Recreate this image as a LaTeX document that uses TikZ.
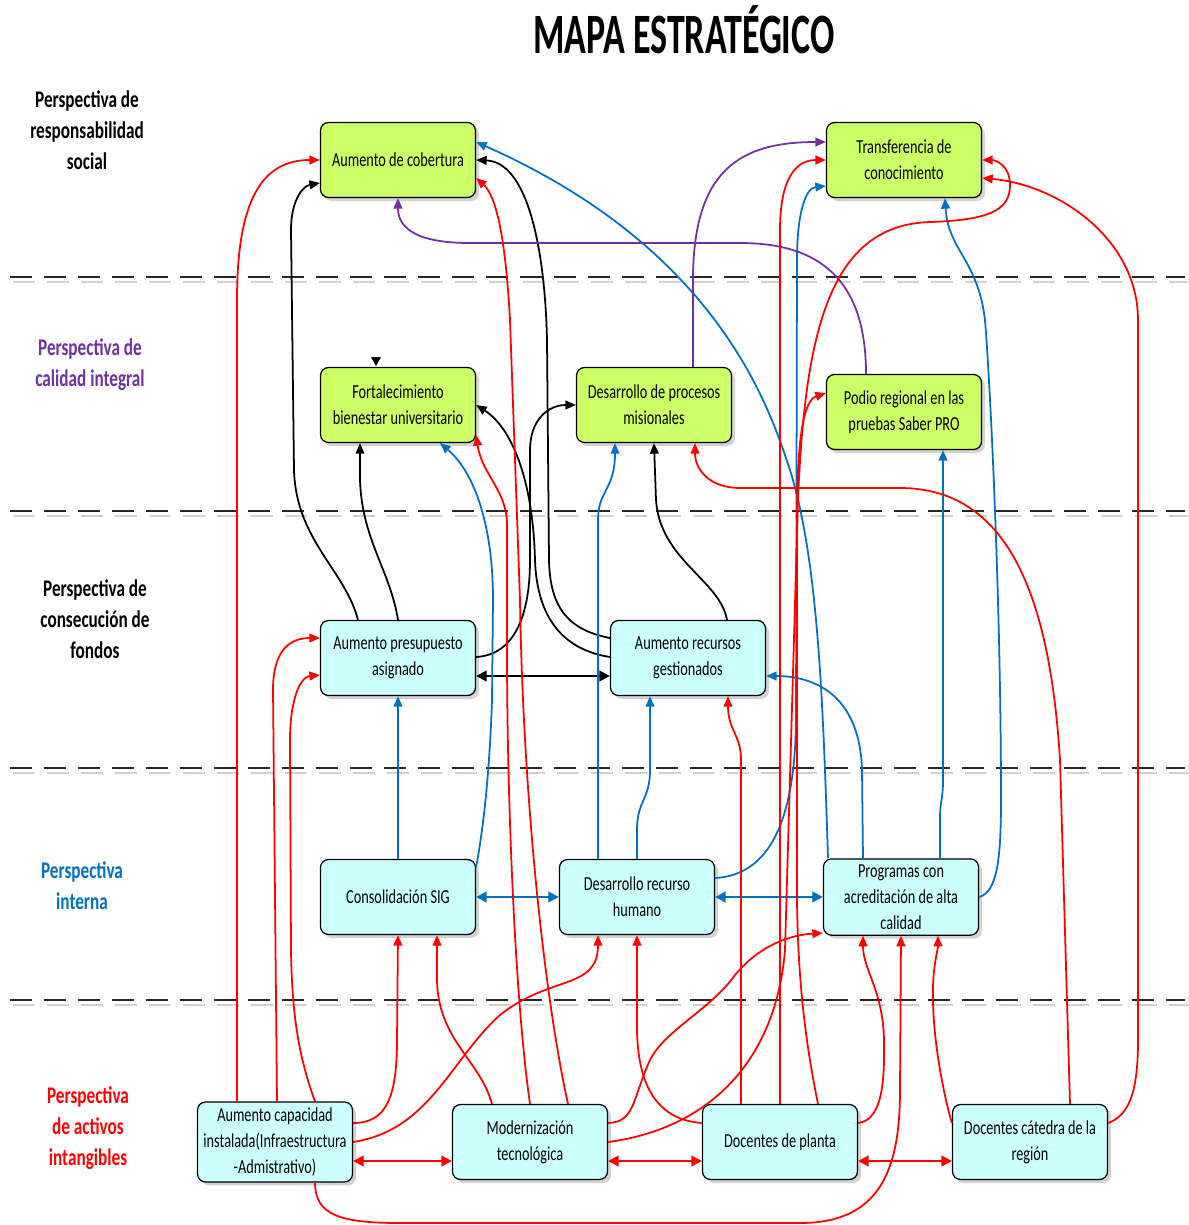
\documentclass[tikz,border=0pt]{standalone}
\usepackage{fontspec}
\setmainfont{Carlito}[FakeStretch=0.72]
\newfontfamily\titlefont{Carlito}[FakeStretch=0.63]
\usepackage{tikz}
\usetikzlibrary{arrows.meta,positioning,calc,shadows}
\definecolor{lima}{HTML}{CCFF66}
\definecolor{celeste}{HTML}{CCFFFF}
\definecolor{azul}{HTML}{0070C0}
\definecolor{morado}{HTML}{7030A0}
\definecolor{rojo}{HTML}{FF0000}
\definecolor{sombra}{HTML}{D2D2C6}

\begin{document}
\begin{tikzpicture}[x=0.02cm,y=-0.02cm,
    caja/.style={draw, rounded corners=0.16cm, minimum width=3.1cm, minimum height=1.5cm,
      align=center, line width=0.7pt, font=\fontsize{11.3}{14.7}\selectfont,
      drop shadow={shadow xshift=2pt, shadow yshift=-2pt, fill=black!35}},
    verde/.style={caja, fill=lima},
    cian/.style={caja, fill=celeste},
    persp/.style={align=center, font=\fontsize{13.6}{17.6}\selectfont\bfseries},
    flecha/.style={line width=1pt, -{Triangle[length=6pt,width=5pt]}},
    doble/.style={line width=1.4pt, {Triangle[length=6pt,width=6pt]}-{Triangle[length=6pt,width=6pt]}},
    negro/.style={flecha, draw=black},
    azulf/.style={flecha, draw=azul},
    moradof/.style={flecha, draw=morado},
    rojof/.style={flecha, draw=rojo},
    separa/.style={line width=1.6pt, dash pattern=on 0.44cm off 0.24cm}]

    \useasboundingbox (0,0) rectangle (1189,1225);

    % title and perspectives
    \node (titulo) at (684,30) {\titlefont\fontsize{32.5}{36}\selectfont\bfseries MAPA ESTRATÉGICO};
    \node [persp] (p1) at (87,130) {Perspectiva de\\responsabilidad\\social};
    \node [persp, text=morado] (p2) at (90,365) {Perspectiva de\\calidad integral};
    \node [persp] (p3) at (95,619) {Perspectiva de\\consecución de\\fondos};
    \node [persp, text=azul] (p4) at (82,886) {Perspectiva\\interna};
    \node [persp, text=rojo] (p5) at (88,1128) {Perspectiva\\de activos\\intangibles};

    % separators
    \foreach \y in {277,511,768,1000} {
        \draw [separa, sombra] (13,\y+5) -- (1188,\y+5);
        \draw [separa, black!85] (10,\y) -- (1185,\y);
    }

    % objectives
    \node [verde] (cob) at (398,160) {Aumento de cobertura};
    \node [verde] (trans) at (904,160) {Transferencia de\\conocimiento};
    \node [verde] (fort) at (398,405) {Fortalecimiento\\bienestar universitario};
    \node [verde] (desp) at (654,405) {Desarrollo de procesos\\misionales};
    \node [verde] (podio) at (904,412) {Podio regional en las\\pruebas Saber PRO};
    \node [cian] (pres) at (398,658) {Aumento presupuesto\\asignado};
    \node [cian] (recg) at (688,658) {Aumento recursos\\gestionados};
    \node [cian] (sig) at (398,897) {Consolidación SIG};
    \node [cian] (drh) at (637,897) {Desarrollo recurso\\humano};
    \node [cian] (prog) at (901,897) {Programas con\\acreditación de alta\\calidad};
    \node [cian] (cap) at (275,1142) {Aumento capacidad\\instalada(Infraestructura\\-Admistrativo)};
    \node [cian] (mod) at (530,1142) {Modernización\\tecnológica};
    \node [cian] (docp) at (780,1142) {Docentes de planta};
    \node [cian] (docc) at (1030,1142) {Docentes cátedra de la\\región};

    \fill (371,357) -- (381,357) -- (376,366) -- cycle;

    % black
    \draw [negro] ($(pres.north)+(-40,0)$) .. controls (345,570) and (296,540) .. (294,470)
        -- (291,230) .. controls (291,200) and (303,186) .. ($(cob.west)+(0,23)$);
    \draw [negro] (pres.north) .. controls (390,570) and (362,540) .. (360,480) -- ($(fort.south)+(-38,0)$);
    \draw [negro] ($(pres.east)+(0,-1)$) .. controls (512,655) and (530,620) .. (530,560)
        -- (530,450) .. controls (530,420) and (548,405) .. (desp.west);
    \draw [negro] ($(recg.west)+(0,-1)$) .. controls (565,650) and (537,620) .. (535,560)
        .. controls (533,480) and (512,428) .. (fort.east);
    \draw [negro] ($(recg.west)+(0,-20)$) .. controls (570,630) and (550,610) .. (549,560)
        -- (547,340) .. controls (545,250) and (528,162) .. (cob.east);
    \draw [negro] ($(recg.north)+(39,0)$) .. controls (720,580) and (660,560) .. (656,500) -- (desp.south);
    \draw [doble, black] ($(pres.east)+(0,18)$) -- ($(recg.west)+(0,18)$);

    % blue
    \draw [azulf] (sig.north) -- (pres.south);
    \draw [azulf] ($(sig.east)+(0,-30)$) .. controls (485,820) and (490,760) .. (492,700)
        -- (493,600) .. controls (493,520) and (472,470) .. ($(fort.south)+(42,0)$);
    \draw [doble, azul] (sig.east) -- (drh.west);
    \draw [azulf] ($(drh.north)+(-39,0)$) -- (598,520) .. controls (598,490) and (615,490) .. ($(desp.south)+(-39,0)$);
    \draw [azulf] (drh.north) -- (637,830) .. controls (637,800) and (650,800) .. (650,770) -- ($(recg.south)+(-38,0)$);
    \draw [azulf] ($(drh.east)+(0,-19)$) .. controls (770,875) and (795,820) .. (796,720)
        -- (797,260) .. controls (797,215) and (805,188) .. ($(trans.west)+(0,26)$);
    \draw [azulf] ($(prog.north)+(-38,0)$) -- (862,770) .. controls (860,700) and (820,676) .. ($(recg.east)+(0,18)$);
    \draw [azulf] ($(prog.north)+(-73,0)$) .. controls (823,700) and (818,560) .. (790,470)
        .. controls (770,410) and (720,250) .. ($(cob.east)+(0,-18)$);
    \draw [azulf] ($(prog.north)+(39,0)$) -- (940,820) .. controls (940,800) and (943,800) .. (943,780) -- ($(podio.south)+(39,0)$);
    \draw [azulf] (prog.east) .. controls (997,892) and (1001,860) .. (1001,800)
        .. controls (1001,600) and (990,380) .. (985,320) .. controls (978,260) and (948,250) .. ($(trans.south)+(41,0)$);
    \draw [doble, azul] (drh.east) -- (prog.west);

    % purple
    \draw [moradof] ($(desp.north)+(39,0)$) -- (693,280) .. controls (693,170) and (740,142) .. ($(trans.west)+(0,-18)$);
    \draw [moradof] ($(podio.north)+(-38,0)$) .. controls (866,280) and (820,243) .. (740,243)
        -- (470,243) .. controls (420,243) and (398,230) .. (cob.south);

    % red
    \draw [rojof] ($(cap.north)+(-38,0)$) -- (237,300) .. controls (237,200) and (262,160) .. (cob.west);
    \draw [rojof] ($(cap.north)+(2,0)$) -- (273,690) .. controls (273,650) and (290,638) .. ($(pres.west)+(0,-20)$);
    \draw [rojof] ($(cap.north)+(40,0)$) .. controls (300,1060) and (292,1020) .. (291,950)
        -- (290,740) .. controls (290,700) and (300,677) .. ($(pres.west)+(0,17)$);
    \draw [rojof] ($(cap.east)+(0,-19)$) .. controls (385,1123) and (397,1100) .. (397,1040) -- (sig.south);
    \draw [rojof] (cap.east) .. controls (430,1130) and (450,1060) .. (500,1015)
        .. controls (550,975) and (598,990) .. ($(drh.south)+(-39,0)$);
    \draw [rojof] ($(cap.south)+(40,0)$) .. controls (315,1215) and (340,1223) .. (400,1223)
        -- (800,1223) .. controls (880,1223) and (900,1170) .. (900,1090) -- (prog.south);
    \draw [doble, rojo] ($(cap.east)+(0,19)$) -- ($(mod.west)+(0,19)$);

    \draw [rojof] ($(mod.north)+(-38,0)$) .. controls (480,1060) and (438,1040) .. (437,980) -- ($(sig.south)+(39,0)$);
    \draw [rojof] (mod.north) .. controls (515,1000) and (507,800) .. (507,650)
        -- (507,525) .. controls (507,490) and (482,475) .. ($(fort.east)+(0,30)$);
    \draw [rojof] ($(mod.north)+(38,0)$) .. controls (545,1000) and (523,800) .. (520,600)
        -- (510,320) .. controls (505,230) and (495,195) .. ($(cob.east)+(0,18)$);
    \draw [rojof] ($(mod.east)+(0,-19)$) .. controls (635,1122) and (632,1100) .. (650,1060)
        .. controls (665,1030) and (710,1010) .. (735,975) .. controls (760,945) and (790,935) .. ($(prog.west)+(0,36)$);
    \draw [rojof] (mod.east) .. controls (700,1130) and (775,1070) .. (785,950)
        -- (798,500) .. controls (805,330) and (830,225) .. (930,222)
        .. controls (990,220) and (1010,210) .. (1010,185) .. controls (1010,165) and (995,160) .. (trans.east);
    \draw [doble, rojo] ($(mod.east)+(0,19)$) -- ($(docp.west)+(0,19)$);

    \draw [rojof] ($(docp.north)+(-39,0)$) -- (741,760) .. controls (741,735) and (728,730) .. ($(recg.south)+(40,0)$);
    \draw [rojof] (docp.north) -- (780,230) .. controls (780,180) and (795,160) .. (trans.west);
    \draw [rojof] ($(docp.north)+(38,0)$) .. controls (805,1040) and (798,980) .. (797,900)
        -- (797,520) .. controls (797,430) and (805,400) .. ($(podio.west)+(0,-19)$);
    \draw [rojof] ($(docp.west)+(0,-19)$) .. controls (660,1120) and (638,1090) .. (637,1030) -- (drh.south);
    \draw [rojof] ($(docp.east)+(0,-19)$) .. controls (880,1120) and (885,1090) .. (884,1040)
        .. controls (883,990) and (863,970) .. ($(prog.south)+(-38,0)$);
    \draw [doble, rojo] ($(docp.east)+(0,19)$) -- ($(docc.west)+(0,19)$);

    \draw [rojof] ($(docc.west)+(0,-19)$) .. controls (945,1100) and (932,1040) .. (933,990)
        .. controls (933,965) and (938,950) .. ($(prog.south)+(37,0)$);
    \draw [rojof] ($(docc.north)+(40,0)$) -- (1060,760) .. controls (1050,600) and (1010,488) .. (900,488)
        -- (740,488) .. controls (710,488) and (695,470) .. ($(desp.south)+(41,0)$);
    \draw [rojof] ($(docc.east)+(0,-19)$) .. controls (1130,1115) and (1138,1090) .. (1138,1040)
        -- (1138,320) .. controls (1138,240) and (1060,185) .. ($(trans.east)+(0,18)$);
\end{tikzpicture}
\end{document}
